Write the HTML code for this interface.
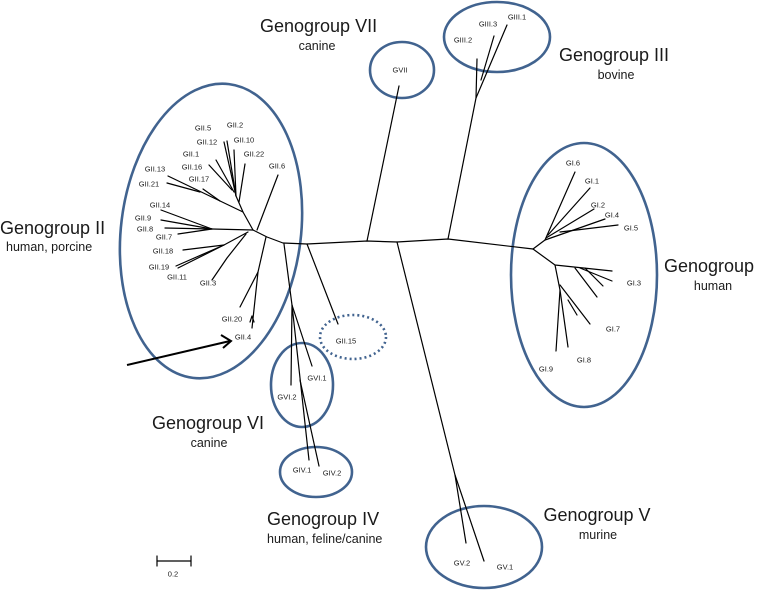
<!DOCTYPE html>
<html><head><meta charset="utf-8"><style>
html,body{margin:0;padding:0;background:#fff;}
svg{display:block;}
text{font-family:"Liberation Sans",sans-serif;fill:#1a1a1a;}
.l{font-size:7.5px;text-anchor:middle;dominant-baseline:central;}
.t{font-size:18px;dominant-baseline:central;}
.s{font-size:12.5px;dominant-baseline:central;}
.e{fill:none;stroke:#41638f;stroke-width:2.6;}
.b{fill:none;stroke:#000;stroke-width:1.2;stroke-linecap:round;stroke-linejoin:round;}
</style></head><body>
<svg width="760" height="590" viewBox="0 0 760 590" xmlns="http://www.w3.org/2000/svg">
<!-- ellipses -->
<ellipse class="e" cx="211" cy="231" rx="90" ry="148" transform="rotate(7 211 231)"/>
<ellipse class="e" cx="402" cy="70" rx="32" ry="28"/>
<ellipse class="e" cx="497" cy="37" rx="53" ry="35"/>
<ellipse class="e" cx="584" cy="275" rx="73" ry="132"/>
<ellipse class="e" cx="302" cy="385" rx="31" ry="42"/>
<ellipse class="e" cx="316" cy="472" rx="36" ry="25"/>
<ellipse class="e" cx="484" cy="547" rx="58" ry="41"/>
<ellipse cx="353" cy="337" rx="33" ry="22" fill="none" stroke="#41638f" stroke-width="2.6" stroke-dasharray="2 3"/>

<!-- backbone -->
<polyline class="b" points="253,230 267,237 283,243 307,244 367,241 397,242 448,239 533,249"/>
<!-- GVII -->
<line class="b" x1="367" y1="241" x2="399" y2="86"/>
<!-- GIII -->
<polyline class="b" points="448,239 476,98 507,25"/>
<line class="b" x1="481" y1="80" x2="494" y2="36"/>
<line class="b" x1="476" y1="98" x2="477" y2="59"/>
<!-- GV -->
<polyline class="b" points="397,242 455,475 466,543"/>
<line class="b" x1="455" y1="475" x2="484" y2="561"/>
<!-- GII.15 -->
<line class="b" x1="307" y1="244" x2="338" y2="324"/>
<!-- GVI / GIV -->
<polyline class="b" points="284,244 292,305 291,385"/>
<line class="b" x1="292" y1="305" x2="312" y2="366"/>
<line class="b" x1="292" y1="305" x2="309" y2="460"/>
<line class="b" x1="300" y1="380" x2="319" y2="466"/>
<!-- GII.20 / GII.4 -->
<polyline class="b" points="266,237 258,272 240,307"/>
<polyline class="b" points="258,272 252,328"/>
<path class="b" d="M250,322 L252,316 L254,322"/>
<!-- GII internal -->
<polyline class="b" points="253,230 243,212 236,196 224,142"/>
<line class="b" x1="236" y1="196" x2="227" y2="141"/>
<line class="b" x1="236" y1="196" x2="234" y2="150"/>
<line class="b" x1="239" y1="202" x2="245" y2="164"/>
<line class="b" x1="234" y1="192" x2="216" y2="160"/>
<line class="b" x1="232" y1="190" x2="209" y2="165"/>
<line class="b" x1="243" y1="212" x2="168" y2="176"/>
<line class="b" x1="220" y1="201" x2="203" y2="189"/>
<line class="b" x1="200" y1="192" x2="167" y2="183"/>
<line class="b" x1="257" y1="230" x2="278" y2="175"/>
<polyline class="b" points="253,230 212,229 161,210"/>
<line class="b" x1="212" y1="229" x2="161" y2="220"/>
<line class="b" x1="212" y1="229" x2="165" y2="228"/>
<line class="b" x1="212" y1="229" x2="178" y2="234"/>
<polyline class="b" points="248,232 224,245 183,250"/>
<line class="b" x1="224" y1="245" x2="176" y2="266"/>
<line class="b" x1="224" y1="245" x2="178" y2="268"/>
<polyline class="b" points="246,234 227,258 212,280"/>
<!-- GI -->
<polyline class="b" points="533,249 545,240 575,172"/>
<line class="b" x1="548" y1="235" x2="590" y2="188"/>
<line class="b" x1="546" y1="238" x2="594" y2="209"/>
<line class="b" x1="545" y1="240" x2="605" y2="219"/>
<line class="b" x1="560" y1="232" x2="618" y2="225"/>
<polyline class="b" points="533,249 555,265 612,271"/>
<line class="b" x1="580" y1="268" x2="612" y2="281"/>
<line class="b" x1="585" y1="268" x2="603" y2="286"/>
<line class="b" x1="575" y1="268" x2="597" y2="297"/>
<polyline class="b" points="555,265 560,290 556,351"/>
<line class="b" x1="560" y1="290" x2="568" y2="347"/>
<line class="b" x1="560" y1="285" x2="590" y2="324"/>
<line class="b" x1="568" y1="300" x2="577" y2="315"/>
<!-- arrow -->
<line x1="127" y1="365" x2="230" y2="341" stroke="#000" stroke-width="2"/>
<path d="M221,335 L231,341 L223,348" fill="none" stroke="#000" stroke-width="2"/>
<!-- scale -->
<line class="b" x1="157" y1="561" x2="191" y2="561"/>
<line class="b" x1="157" y1="556" x2="157" y2="566"/>
<line class="b" x1="191" y1="556" x2="191" y2="566"/>
<text class="l" x="173" y="574">0.2</text>

<!-- leaf labels -->
<text class="l" x="203" y="128">GII.5</text>
<text class="l" x="235" y="125">GII.2</text>
<text class="l" x="207" y="142">GII.12</text>
<text class="l" x="244" y="140">GII.10</text>
<text class="l" x="191" y="154">GII.1</text>
<text class="l" x="254" y="154">GII.22</text>
<text class="l" x="192" y="167">GII.16</text>
<text class="l" x="277" y="166">GII.6</text>
<text class="l" x="155" y="169">GII.13</text>
<text class="l" x="199" y="179">GII.17</text>
<text class="l" x="149" y="184">GII.21</text>
<text class="l" x="160" y="205">GII.14</text>
<text class="l" x="143" y="218">GII.9</text>
<text class="l" x="145" y="229">GII.8</text>
<text class="l" x="164" y="237">GII.7</text>
<text class="l" x="163" y="251">GII.18</text>
<text class="l" x="159" y="267">GII.19</text>
<text class="l" x="177" y="277">GII.11</text>
<text class="l" x="208" y="283">GII.3</text>
<text class="l" x="232" y="319">GII.20</text>
<text class="l" x="243" y="337">GII.4</text>
<text class="l" x="346" y="341">GII.15</text>
<text class="l" x="400" y="70">GVII</text>
<text class="l" x="517" y="17">GIII.1</text>
<text class="l" x="488" y="24">GIII.3</text>
<text class="l" x="463" y="40">GIII.2</text>
<text class="l" x="573" y="163">GI.6</text>
<text class="l" x="592" y="181">GI.1</text>
<text class="l" x="598" y="205">GI.2</text>
<text class="l" x="612" y="215">GI.4</text>
<text class="l" x="631" y="228">GI.5</text>
<text class="l" x="634" y="283">GI.3</text>
<text class="l" x="613" y="329">GI.7</text>
<text class="l" x="584" y="360">GI.8</text>
<text class="l" x="546" y="369">GI.9</text>
<text class="l" x="317" y="378">GVI.1</text>
<text class="l" x="287" y="397">GVI.2</text>
<text class="l" x="302" y="470">GIV.1</text>
<text class="l" x="332" y="473">GIV.2</text>
<text class="l" x="462" y="563">GV.2</text>
<text class="l" x="505" y="567">GV.1</text>

<!-- group titles -->
<text class="t" x="0" y="228">Genogroup II</text>
<text class="s" x="6" y="247">human, porcine</text>
<text class="t" x="260" y="26">Genogroup VII</text>
<text class="s" x="317" y="46" text-anchor="middle">canine</text>
<text class="t" x="614" y="55" text-anchor="middle">Genogroup III</text>
<text class="s" x="616" y="75" text-anchor="middle">bovine</text>
<text class="t" x="664" y="266">Genogroup I</text>
<text class="s" x="713" y="286" text-anchor="middle">human</text>
<text class="t" x="208" y="423" text-anchor="middle">Genogroup VI</text>
<text class="s" x="209" y="443" text-anchor="middle">canine</text>
<text class="t" x="267" y="519">Genogroup IV</text>
<text class="s" x="267" y="539">human, feline/canine</text>
<text class="t" x="597" y="515" text-anchor="middle">Genogroup V</text>
<text class="s" x="598" y="535" text-anchor="middle">murine</text>
</svg>
</body></html>
